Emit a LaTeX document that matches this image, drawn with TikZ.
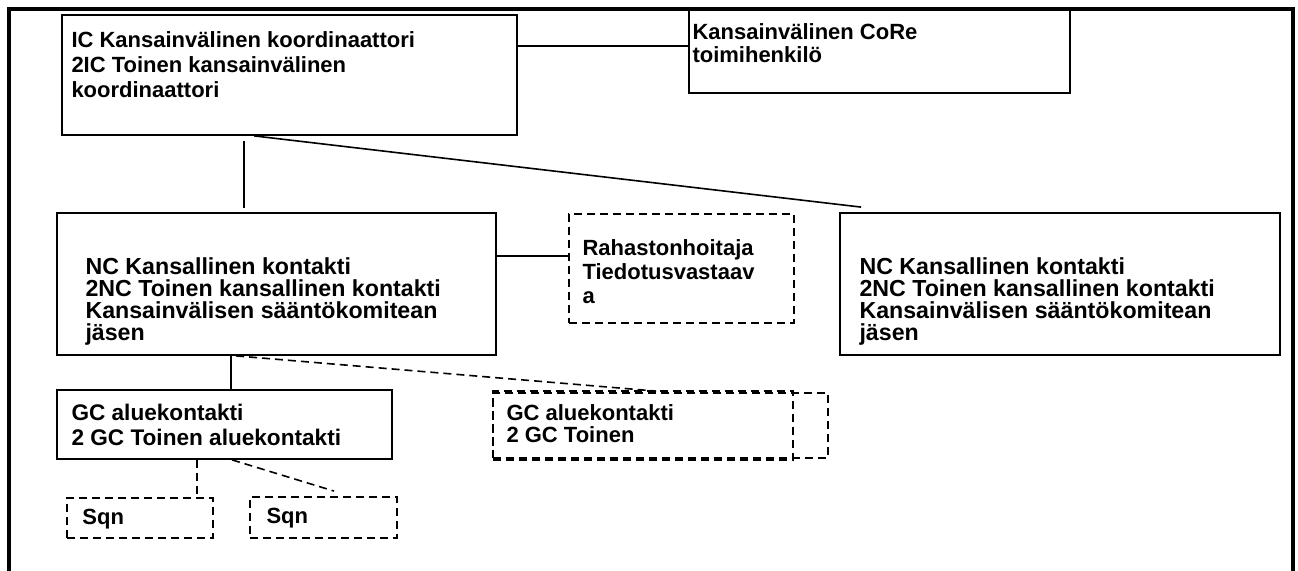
\documentclass[tikz,border=0pt]{standalone}
\usepackage{fontspec}
\setmainfont{Liberation Sans}
\usetikzlibrary{calc}

\begin{document}
\begin{tikzpicture}[x=0.5pt,y=-0.5pt,
    box/.style={draw,line width=0.9pt,rectangle,inner sep=0pt},
    dbox/.style={box,dash pattern=on 4pt off 2.5pt},
    txt/.style={anchor=north west,inner sep=0pt,align=left,font=\bfseries\fontsize{11}{#1}\selectfont},
    txt/.default=11pt,
    bigtxt/.style={txt,font=\bfseries\fontsize{11.6}{11}\selectfont},
    link/.style={line width=0.8pt},
    dlink/.style={link,dash pattern=on 4pt off 2.5pt}]
	\useasboundingbox (0,0) rectangle (1298,571);

	% Frame
	\draw[line width=2pt] (9,571) -- (9,9) -- (1293,9) -- (1293,571);

	% Boxes
	% top
	\node[box,minimum width=227.5pt,minimum height=60pt] (ic) at (289.5,75) {};
	\node[box,minimum width=190.5pt,minimum height=42pt] (core) at (879.5,51) {};
	% middle
	\node[box,minimum width=219.5pt,minimum height=71pt] (ncl) at (276.5,284) {};
	\node[dbox,minimum width=112.5pt,minimum height=54.5pt] (rah) at (681.5,268.5) {};
	\node[box,minimum width=220pt,minimum height=71pt] (ncr) at (1060,284) {};
	% bottom
	\node[box,minimum width=167.5pt,minimum height=34.5pt] (gc) at (224.5,424.5) {};
	\node[dbox,minimum width=150pt,minimum height=34.5pt] (gcin) at (643,425.5) {};
	\node[dbox,minimum width=167.5pt,minimum height=32.5pt] (gcout) at (660.5,425.5) {};
	\node[dbox,minimum width=73pt,minimum height=20pt] (sqa) at (140,518) {};
	\node[dbox,minimum width=73.5pt,minimum height=20.5pt] (sqb) at (323.5,517.5) {};

	% Texts
	\node[txt=12.5pt] (ictxt) at ($(ic.north west)+(10,17)$) {IC Kansainvälinen koordinaattori\\2IC Toinen kansainvälinen\\koordinaattori};
	\node[txt=11.5pt] (coretxt) at ($(core.north west)+(4,15)$) {Kansainvälinen CoRe\\toimihenkilö};
	\node[bigtxt] (ncltxt) at ($(ncl.north west)+(29,45)$) {NC Kansallinen kontakti\\2NC Toinen kansallinen kontakti\\Kansainvälisen sääntökomitean\\jäsen};
	\node[txt=12pt] (rahtxt) at ($(rah.north west)+(14,26)$) {Rahastonhoitaja\\Tiedotusvastaav\\a};
	\node[bigtxt] (ncrtxt) at ($(ncr.north west)+(20,45)$) {NC Kansallinen kontakti\\2NC Toinen kansallinen kontakti\\Kansainvälisen sääntökomitean\\jäsen};
	\node[txt=12.5pt,font=\bfseries\fontsize{11.3}{12.5}\selectfont] (gctxt) at ($(gc.north west)+(15,15)$) {GC aluekontakti\\2 GC Toinen aluekontakti};
	\node[txt] (gcintxt) at ($(gcin.north west)+(14,14)$) {GC aluekontakti\\2 GC Toinen};
	\node[txt] (sqatxt) at ($(sqa.north west)+(16,12)$) {Sqn};
	\node[txt] (sqbtxt) at ($(sqb.north west)+(17,12)$) {Sqn};

	% Lines
	% IC
	\coordinate (icr) at ($(ic.north east)+(0,32)$);
	\draw[link] (icr) -- (icr -| core.west);
	\coordinate (icd) at ($(ic.south west)+(183,5)$);
	\draw[link] (icd) -- ($(icd |- ncl.north)+(0,-4)$);
	\draw[link] ($(ic.south west)+(193,0)$) -- ($(ncr.north west)+(22,-5)$);
	% NC
	\coordinate (nce) at ($(ncl.north east)+(0,44)$);
	\draw[link] (nce) -- (nce -| rah.west);
	\coordinate (ncd) at ($(ncl.south west)+(175,0)$);
	\draw[link] (ncd) -- (ncd |- gc.north);
	\draw[dlink] ($(ncl.south west)+(180,0)$) -- ($(gcin.north west)+(164,1)$);
	% GC
	\coordinate (gcd) at ($(gc.south west)+(141,0)$);
	\draw[dlink] (gcd) -- (gcd |- sqa.north);
	\draw[dlink] ($(gc.south west)+(176,0)$) -- ($(sqb.north west)+(85,-5)$);

\end{tikzpicture}
\end{document}
